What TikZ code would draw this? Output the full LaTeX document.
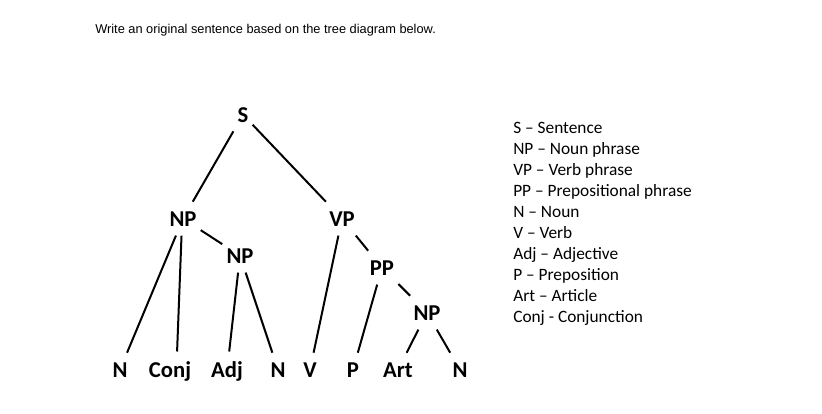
\documentclass[tikz,border=0pt]{standalone}
\usepackage{fontspec}
\setmainfont{Carlito}
\newfontfamily\headfont{Liberation Sans}
\begin{document}
\begin{tikzpicture}[x=0.75pt,y=-0.75pt,
  cat/.style={font=\fontsize{17}{20}\selectfont\bfseries,anchor=base,inner xsep=3pt,inner ysep=7pt},
  key/.style={font=\fontsize{13}{15}\selectfont,anchor=base west,inner sep=0pt},
  edge/.style={line width=1.5pt}]
\useasboundingbox (0,0) rectangle (822,414);
\node[anchor=base west,inner sep=0pt,font=\headfont\fontsize{9.6}{11}\selectfont] (title) at (95,33) {Write an original sentence based on the tree diagram below.};
% phrase nodes
\node[cat] (s) at (243,122) {S};
\node[cat] (np1) at (183,226) {NP}; \node[cat] (vp) at (342,226) {VP};
\node[cat] (np2) at (240,263) {NP}; \node[cat] (pp) at (382,275) {PP};
\node[cat] (np3) at (427,320) {NP};
% word classes
\node[cat] (n1) at (120,377) {N}; \node[cat] (conj) at (170,377) {Conj};
\node[cat] (adj) at (227,377) {Adj}; \node[cat] (n2) at (278,377) {N};
\node[cat] (v) at (310,377) {V}; \node[cat] (p) at (353,377) {P};
\node[cat] (art) at (398,377) {Art}; \node[cat] (n3) at (460,377) {N};
% branches
\draw[edge] (s)--(np1); \draw[edge] (s)--(vp);
\draw[edge] (np1)--(n1); \draw[edge] (np1.-95)--(conj.70); \draw[edge] (np1)--(np2);
\draw[edge] (np2)--(adj); \draw[edge] (np2)--(n2);
\draw[edge] (vp)--(v); \draw[edge] (vp)--(pp);
\draw[edge] (pp)--(p); \draw[edge] (pp)--(np3);
\draw[edge] (np3)--(art); \draw[edge] (np3)--(n3);
% legend
\foreach \txt [count=\i from 0] in {S -- Sentence,NP -- Noun phrase,VP -- Verb phrase,PP -- Prepositional phrase,N -- Noun,V -- Verb,Adj -- Adjective,P -- Preposition,Art -- Article,Conj - Conjunction}
  \node[key] (key\i) at (513,133+21.1*\i) {\txt};
\end{tikzpicture}
\end{document}
